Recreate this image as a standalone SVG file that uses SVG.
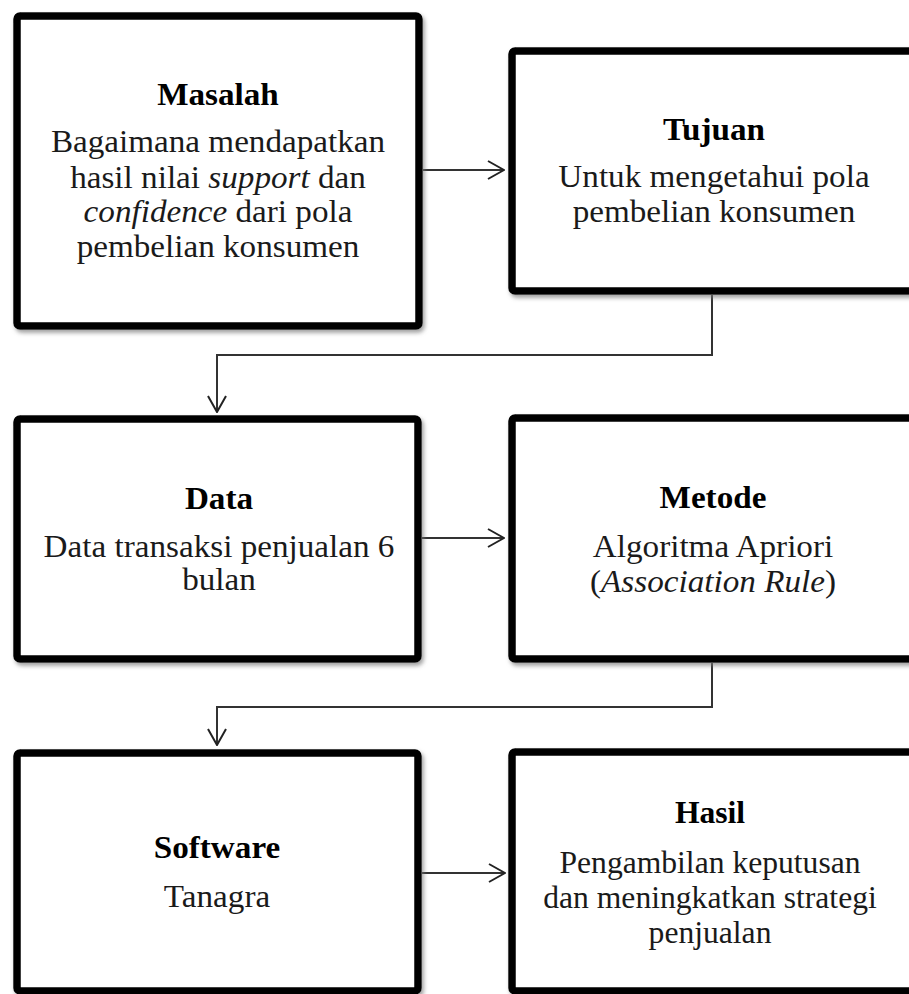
<svg xmlns="http://www.w3.org/2000/svg" width="909" height="994" viewBox="0 0 909 994">
<style>
.box{fill:#fff;stroke:#000;stroke-width:7.5;filter:url(#sh)}
.t{font-family:"Liberation Serif","Times New Roman",serif;font-size:31px;fill:#1a1a1a;text-anchor:middle}
.h{font-weight:bold;fill:#000}
.i{font-style:italic}
.c{fill:none;stroke:#333;stroke-width:2}
</style>
<defs>
<filter id="sh" x="-5%" y="-5%" width="115%" height="115%">
<feDropShadow dx="2" dy="3" stdDeviation="2.2" flood-color="#777" flood-opacity="0.7"/>
</filter>
<marker id="ar" viewBox="0 0 18 20" refX="17" refY="10" markerWidth="18" markerHeight="20" markerUnits="userSpaceOnUse" orient="auto">
<path d="M1,1 L17,10 L1,19" fill="none" stroke="#222" stroke-width="2"/>
</marker>
</defs>
<rect width="909" height="994" fill="#fff"/>
<g id="connectors">
<path class="c" d="M423,170 H504" marker-end="url(#ar)"/>
<path class="c" d="M712,295 V355 H217 V412" marker-end="url(#ar)"/>
<path class="c" d="M422,538 H504" marker-end="url(#ar)"/>
<path class="c" d="M712,663 V707 H217 V745" marker-end="url(#ar)"/>
<path class="c" d="M422,873 H505" marker-end="url(#ar)"/>
</g>
<g id="masalah">
<rect class="box" x="17" y="16" width="402" height="310" rx="3"/>
<g transform="translate(218 0) scale(1.07 1)">
<text class="t h" x="0" y="105">Masalah</text>
<text class="t" x="0" y="152">Bagaimana mendapatkan</text>
<text class="t" x="0" y="188">hasil nilai <tspan class="i">support</tspan> dan</text>
<text class="t" x="0" y="222"><tspan class="i">confidence</tspan> dari pola</text>
<text class="t" x="0" y="257">pembelian konsumen</text>
</g>
</g>
<g id="tujuan">
<rect class="box" x="512" y="51" width="402" height="240" rx="3"/>
<g transform="translate(714 0) scale(1.07 1)">
<text class="t h" x="0" y="140">Tujuan</text>
<text class="t" x="0" y="187">Untuk mengetahui pola</text>
<text class="t" x="0" y="222">pembelian konsumen</text>
</g>
</g>
<g id="data">
<rect class="box" x="17" y="419" width="401" height="240" rx="3"/>
<g transform="translate(219 0) scale(1.07 1)">
<text class="t h" x="0" y="509">Data</text>
<text class="t" x="0" y="557">Data transaksi penjualan 6</text>
<text class="t" x="0" y="590">bulan</text>
</g>
</g>
<g id="metode">
<rect class="box" x="512" y="418" width="402" height="241" rx="3"/>
<g transform="translate(713 0) scale(1.07 1)">
<text class="t h" x="0" y="508">Metode</text>
<text class="t" x="0" y="557">Algoritma Apriori</text>
<text class="t" x="0" y="592">(<tspan class="i">Association Rule</tspan>)</text>
</g>
</g>
<g id="software">
<rect class="box" x="17" y="753" width="401" height="238" rx="3"/>
<g transform="translate(217 0) scale(1.07 1)">
<text class="t h" x="0" y="858">Software</text>
<text class="t" x="0" y="907">Tanagra</text>
</g>
</g>
<g id="hasil">
<rect class="box" x="512" y="752" width="402" height="239" rx="3"/>
<g transform="translate(710 0) scale(1.02 1)">
<text class="t h" x="0" y="823">Hasil</text>
<text class="t" x="0" y="873">Pengambilan keputusan</text>
<text class="t" x="0" y="908">dan meningkatkan strategi</text>
<text class="t" x="0" y="943">penjualan</text>
</g>
</g>
</svg>
